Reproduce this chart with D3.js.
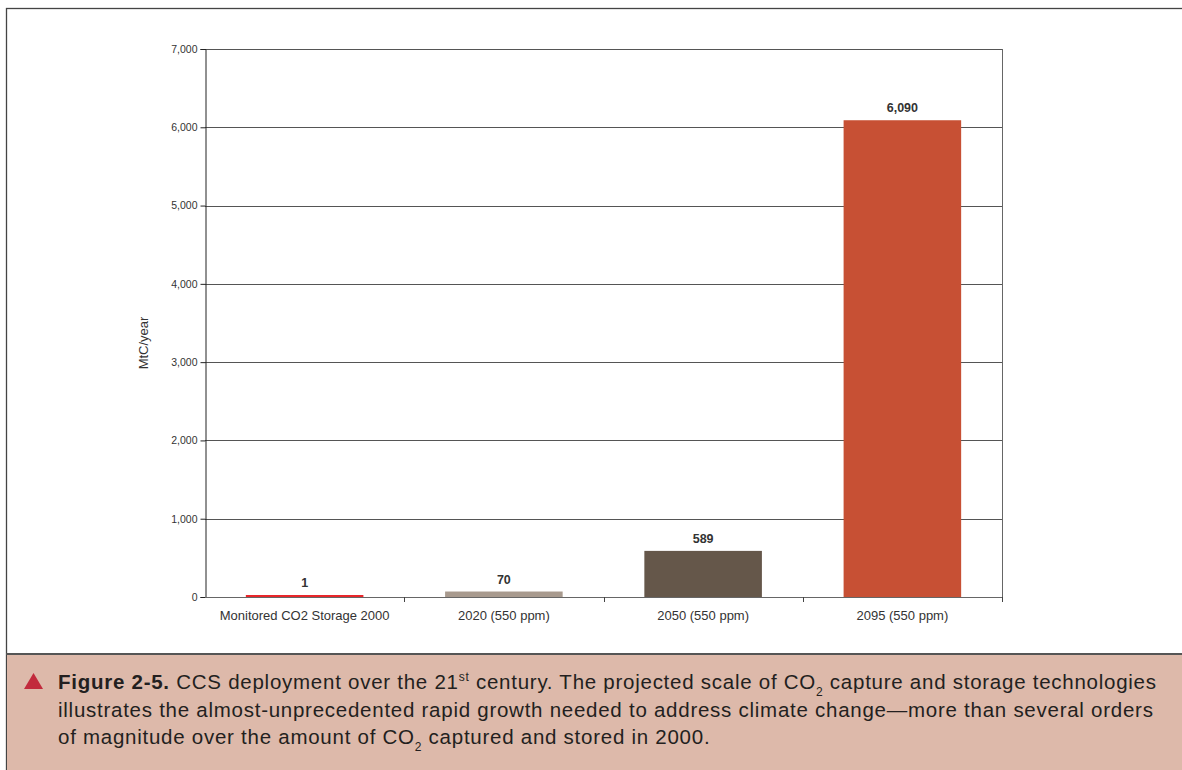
<!DOCTYPE html>
<html><head><meta charset="utf-8">
<script src="https://cdn.jsdelivr.net/npm/d3@7"></script>
<style>
html,body{margin:0;padding:0;background:#fff;}
svg{display:block;}
</style></head>
<body>
<svg id="chart" width="1182" height="770"></svg>
<script>
const categories = ["Monitored CO2 Storage 2000", "2020 (550 ppm)", "2050 (550 ppm)", "2095 (550 ppm)"];
const values = [1, 70, 589, 6090];
const valueLabels = ["1", "70", "589", "6,090"];
const barColors = ["#E8262A", "#A89A8E", "#65574A", "#C75034"];
const yTicks = [0, 1000, 2000, 3000, 4000, 5000, 6000, 7000];
const yTickLabels = ["0", "1,000", "2,000", "3,000", "4,000", "5,000", "6,000", "7,000"];
const yLabel = "MtC/year";

const svg = d3.select("#chart");
const W = 1182, H = 770;

// frame
svg.append("rect").attr("x", 6.5).attr("y", 8.5).attr("width", W).attr("height", H)
  .attr("fill", "#fff").attr("stroke", "#444").attr("stroke-width", 1.3);
// caption panel
svg.append("rect").attr("x", 7).attr("y", 654).attr("width", W).attr("height", H - 654)
  .attr("fill", "#DDB9AA");
svg.append("line").attr("x1", 6).attr("x2", W).attr("y1", 654).attr("y2", 654)
  .attr("stroke", "#555").attr("stroke-width", 2);

const plot = {left: 205, right: 1002, top: 49, bottom: 597};
const x = d3.scaleBand().domain(categories).range([plot.left, plot.right]).paddingInner(0.41).paddingOuter(0.205);
const y = d3.scaleLinear().domain([0, 7000]).range([plot.bottom, plot.top]);

const g = svg.append("g");
const font = "Liberation Sans, Arial, sans-serif";

// gridlines
g.selectAll("line.grid").data(yTicks.filter(d => d > 0)).join("line")
  .attr("x1", plot.left).attr("x2", plot.right)
  .attr("y1", d => Math.round(y(d)) + 0.5).attr("y2", d => Math.round(y(d)) + 0.5)
  .attr("stroke", "#555").attr("stroke-width", 1);

// right border
g.append("line").attr("x1", plot.right + 0.5).attr("x2", plot.right + 0.5)
  .attr("y1", plot.top).attr("y2", plot.bottom + 5).attr("stroke", "#666").attr("stroke-width", 1);

// bars
g.selectAll("rect.bar").data(values).join("rect")
  .attr("x", (d, i) => x(categories[i]))
  .attr("width", x.bandwidth())
  .attr("y", d => Math.min(y(d), plot.bottom - 2))
  .attr("height", d => Math.max(plot.bottom - y(d), 2))
  .attr("fill", (d, i) => barColors[i]);

// value labels
g.selectAll("text.val").data(values).join("text")
  .attr("x", (d, i) => x(categories[i]) + x.bandwidth() / 2)
  .attr("y", d => Math.min(y(d), plot.bottom - 2) - 8)
  .attr("text-anchor", "middle")
  .attr("font-family", font)
  .attr("font-size", 12.5).attr("font-weight", "bold").attr("fill", "#333")
  .text((d, i) => valueLabels[i]);

// y axis
const yAxis = d3.axisLeft(y).tickValues(yTicks).tickFormat((d, i) => yTickLabels[i]).tickSize(5).tickPadding(3);
const ya = g.append("g").attr("transform", `translate(${plot.left + 0.5},0)`).call(yAxis);
ya.select(".domain").attr("stroke", "#222");
ya.selectAll(".tick line").attr("stroke", "#222");
ya.selectAll("text").attr("font-family", font).attr("font-size", 10.5).attr("fill", "#333");

// x axis
const xAxis = d3.axisBottom(x).tickSize(0).tickPadding(13);
const xa = g.append("g").attr("transform", `translate(0,${plot.bottom + 0.5})`).call(xAxis);
xa.select(".domain").attr("stroke", "#666").attr("d", `M${plot.left},0H${plot.right}`);
xa.selectAll("text").attr("font-family", font).attr("font-size", 13).attr("fill", "#333");
// category boundary ticks
const bounds = d3.range(1, categories.length + 1).map(i => plot.left + i * (plot.right - plot.left) / categories.length);
g.selectAll("line.xt").data(bounds).join("line")
  .attr("x1", d => Math.round(d) + 0.5).attr("x2", d => Math.round(d) + 0.5)
  .attr("y1", plot.bottom).attr("y2", plot.bottom + 5)
  .attr("stroke", "#444");

// y label
svg.append("text").attr("transform", `translate(148,${(plot.top + plot.bottom) / 2 + 20}) rotate(-90)`)
  .attr("text-anchor", "middle").attr("font-family", font)
  .attr("font-size", 13).attr("fill", "#333").text(yLabel);

// caption
svg.append("path").attr("d", "M24,689 L33.5,673 L43,689 Z").attr("fill", "#C22A3C");
const cap = svg.append("g").attr("font-family", "Liberation Sans, Arial, Helvetica, sans-serif")
  .attr("font-size", 20.5).attr("fill", "#231F20").attr("letter-spacing", 0.74);
const l1 = cap.append("text").attr("x", 58).attr("y", 689);
l1.append("tspan").attr("font-weight", "bold").text("Figure 2-5.");
l1.append("tspan").text(" CCS deployment over the 21");
l1.append("tspan").attr("font-size", 12).attr("dy", -8).text("st");
l1.append("tspan").attr("dy", 8).text(" century. The projected scale of CO");
l1.append("tspan").attr("font-size", 12).attr("dy", 7).text("2");
l1.append("tspan").attr("dy", -7).text(" capture and storage technologies");
cap.append("text").attr("x", 58).attr("y", 717)
  .text("illustrates the almost-unprecedented rapid growth needed to address climate change\u2014more than several orders");
const l3 = cap.append("text").attr("x", 58).attr("y", 744);
l3.append("tspan").text("of magnitude over the amount of CO");
l3.append("tspan").attr("font-size", 12).attr("dy", 7).text("2");
l3.append("tspan").attr("dy", -7).text(" captured and stored in 2000.");
</script>
</body></html>
